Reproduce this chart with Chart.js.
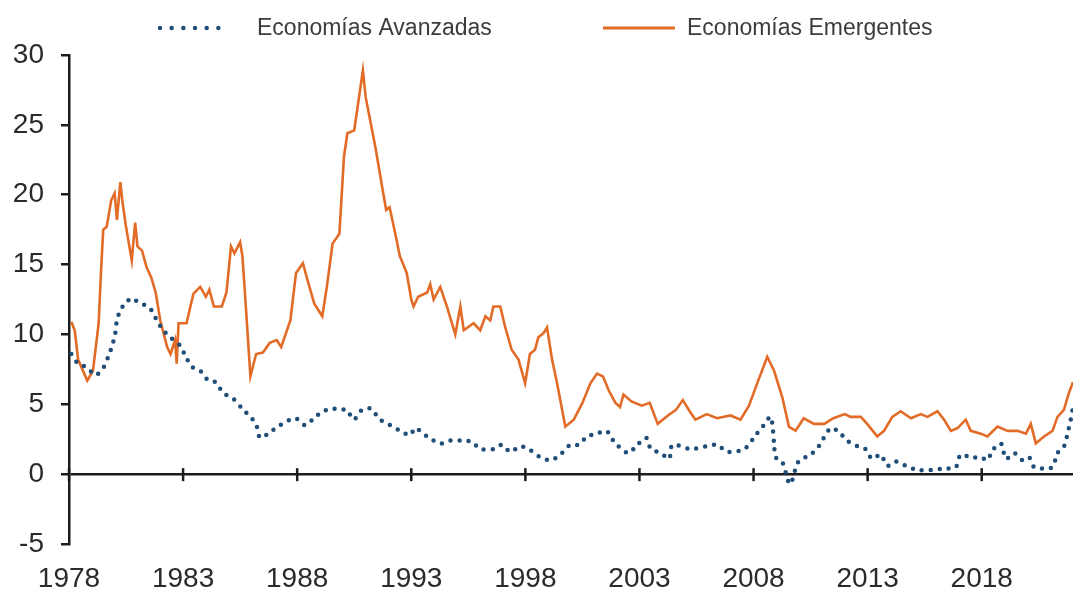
<!DOCTYPE html>
<html>
<head>
<meta charset="utf-8">
<title>Inflación: economías avanzadas y emergentes</title>
<script src="https://cdn.jsdelivr.net/npm/chart.js@4.4.1/dist/chart.umd.min.js"></script>
<style>
  html, body { margin: 0; padding: 0; background: #fff; }
  #wrap { width: 1073px; height: 591px; }
</style>
</head>
<body>
<div id="wrap"><canvas id="chart" width="1073" height="591"></canvas></div>
<script>
// --- datos (año, %) ---
const xTickYears = [1978, 1983, 1988, 1993, 1998, 2003, 2008, 2013, 2018];
const yTicks = [-5, 0, 5, 10, 15, 20, 25, 30];

// Economías Avanzadas (línea punteada)
const avYears = [1978.1, 1978.4, 1978.7, 1979.07, 1979.2, 1979.5, 1979.72, 1979.87, 1980.02, 1980.09,
  1980.24, 1980.46, 1980.75, 1981.04, 1981.33, 1981.63, 1981.85, 1982.14, 1982.43, 1982.87,
  1983.09, 1983.38, 1983.75, 1984.11, 1984.4, 1984.77, 1985.2, 1985.64, 1986.01, 1986.23,
  1986.38, 1986.81, 1987.25, 1987.91, 1988.35, 1988.79, 1989.15, 1989.52, 1989.9, 1990.18,
  1990.47, 1990.84, 1991.2, 1991.64, 1992.08, 1992.52, 1992.96, 1993.17, 1993.69, 1994.27,
  1994.71, 1995.29, 1995.66, 1996.03, 1996.61, 1996.98, 1997.34, 1997.78, 1998.22, 1998.66,
  1999.1, 1999.53, 1999.97, 2000.34, 2000.71, 2001.14, 2001.55, 2001.9, 2002.5, 2002.85,
  2003.3, 2003.5, 2003.95, 2004.3, 2004.45, 2005.25, 2005.95, 2006.4, 2006.85, 2007.6,
  2008.1, 2008.45, 2008.75, 2008.9, 2008.97, 2009.25, 2009.6, 2009.97, 2010.5, 2010.86,
  2011.38, 2011.75, 2012.1, 2012.55, 2012.9, 2013.2, 2013.57, 2013.86, 2014.23, 2014.67,
  2015.18, 2015.77, 2016.35, 2016.86, 2017.08, 2017.52, 2017.96, 2018.25, 2018.47, 2018.84,
  2019.06, 2019.42, 2019.79, 2020.08, 2020.3, 2020.74, 2021.1, 2021.32, 2021.61, 2021.76,
  2021.9, 2022.0];
const avValues = [8.6, 7.9, 7.7, 7.2, 7.1, 7.6, 8.4, 9.1, 10.0, 10.9,
  11.7, 12.2, 12.6, 12.3, 12.1, 11.7, 11.0, 10.3, 9.8, 9.2,
  8.5, 7.7, 7.4, 6.7, 6.6, 5.8, 5.4, 4.6, 4.0, 3.4,
  2.6, 3.0, 3.5, 4.0, 3.5, 4.1, 4.5, 4.7, 4.6, 4.6,
  3.9, 4.6, 4.7, 3.9, 3.5, 3.1, 2.8, 3.3, 2.7, 2.2,
  2.4, 2.4, 2.3, 1.8, 1.8, 2.1, 1.6, 2.0, 1.7, 1.2,
  1.0, 1.4, 2.1, 2.1, 2.7, 2.9, 3.1, 2.3, 1.5, 2.0,
  2.6, 1.8, 1.5, 1.1, 2.1, 1.8, 2.0, 2.1, 1.6, 1.8,
  2.8, 3.5, 4.1, 2.2, 1.2, 0.9, -0.7, 0.9, 1.4, 2.0,
  3.3, 3.0, 2.4, 2.0, 1.8, 1.1, 1.4, 0.6, 0.9, 0.6,
  0.3, 0.3, 0.4, 0.5, 1.4, 1.2, 1.2, 1.0, 1.7, 2.2,
  1.1, 1.5, 1.0, 1.2, 0.5, 0.4, 0.5, 1.5, 2.0, 2.9,
  3.9, 4.8];

// Economías Emergentes (línea continua)
const emYears = [1978.1, 1978.25, 1978.4, 1978.8, 1979.05, 1979.3, 1979.4, 1979.5, 1979.65, 1979.85,
  1980.0, 1980.1, 1980.25, 1980.35, 1980.5, 1980.75, 1980.9, 1981.0, 1981.2, 1981.4,
  1981.6, 1981.8, 1982.0, 1982.3, 1982.45, 1982.65, 1982.72, 1982.8, 1983.15, 1983.45,
  1983.75, 1984.0, 1984.15, 1984.35, 1984.7, 1984.9, 1985.1, 1985.25, 1985.5, 1985.6,
  1985.75, 1985.95, 1986.2, 1986.5, 1986.8, 1987.1, 1987.3, 1987.7, 1987.95, 1988.25,
  1988.45, 1988.75, 1989.1, 1989.3, 1989.55, 1989.85, 1990.05, 1990.2, 1990.5, 1990.65,
  1990.88, 1991.0, 1991.25, 1991.45, 1991.75, 1991.9, 1992.05, 1992.3, 1992.5, 1992.8,
  1993.0, 1993.1, 1993.3, 1993.7, 1993.83, 1993.98, 1994.27, 1994.56, 1994.93, 1995.15,
  1995.3, 1995.73, 1996.02, 1996.25, 1996.46, 1996.6, 1996.9, 1997.12, 1997.4, 1997.7,
  1997.99, 1998.2, 1998.42, 1998.57, 1998.8, 1998.95, 1999.17, 1999.39, 1999.75, 2000.12,
  2000.5, 2000.85, 2001.14, 2001.4, 2001.65, 2001.95, 2002.15, 2002.3, 2002.65, 2003.1,
  2003.45, 2003.8, 2004.25, 2004.6, 2004.9, 2005.2, 2005.45, 2005.95, 2006.4, 2006.99,
  2007.43, 2007.8, 2008.16, 2008.6, 2008.9, 2009.26, 2009.55, 2009.84, 2010.2, 2010.65,
  2011.1, 2011.5, 2012.0, 2012.25, 2012.7, 2012.98, 2013.42, 2013.72, 2014.08, 2014.45,
  2014.9, 2015.33, 2015.62, 2016.06, 2016.35, 2016.65, 2016.94, 2017.3, 2017.52, 2017.96,
  2018.25, 2018.69, 2019.13, 2019.57, 2019.94, 2020.15, 2020.37, 2020.73, 2021.1, 2021.32,
  2021.6, 2021.82, 2022.0];
const emValues = [10.9, 10.3, 8.2, 6.7, 7.4, 10.8, 14.4, 17.5, 17.7, 19.6,
  20.1, 18.2, 20.9, 19.4, 17.7, 15.3, 18.0, 16.3, 16.0, 14.8,
  14.1, 13.0, 11.0, 9.1, 8.6, 9.6, 7.9, 10.8, 10.8, 12.9,
  13.4, 12.7, 13.2, 12.0, 12.0, 13.0, 16.3, 15.8, 16.6, 15.6,
  12.0, 7.0, 8.6, 8.7, 9.4, 9.6, 9.1, 11.0, 14.4, 15.1,
  13.9, 12.2, 11.3, 13.4, 16.5, 17.2, 22.7, 24.4, 24.6, 26.3,
  28.9, 27.0, 24.9, 23.2, 20.3, 18.9, 19.1, 17.2, 15.6, 14.4,
  12.5, 12.0, 12.7, 13.0, 13.6, 12.5, 13.4, 12.0, 10.0, 12.0,
  10.3, 10.8, 10.3, 11.3, 11.0, 12.0, 12.0, 10.5, 8.9, 8.2,
  6.5, 8.6, 8.9, 9.8, 10.1, 10.5, 8.2, 6.5, 3.4, 3.9,
  5.1, 6.5, 7.2, 7.0, 6.0, 5.1, 4.8, 5.7, 5.2, 4.9,
  5.1, 3.6, 4.2, 4.6, 5.3, 4.5, 3.9, 4.3, 4.0, 4.2,
  3.9, 4.9, 6.5, 8.4, 7.4, 5.5, 3.4, 3.1, 4.0, 3.6,
  3.6, 4.0, 4.3, 4.1, 4.1, 3.6, 2.7, 3.1, 4.1, 4.5,
  4.0, 4.3, 4.1, 4.5, 3.9, 3.1, 3.3, 3.9, 3.1, 2.9,
  2.7, 3.4, 3.1, 3.1, 2.9, 3.6, 2.2, 2.7, 3.1, 4.1,
  4.6, 5.8, 6.6];

const AXIS_COLOR = '#1c1c1c';
const TEXT_COLOR = '#2a2a2a';
const FONT = '"Liberation Sans", Arial, sans-serif';

const toPoints = (xs, ys) => xs.map((x, i) => ({ x: x, y: ys[i] }));

// marcas del eje X que cruzan la línea del cero
const zeroTicksPlugin = {
    id: 'zeroTicks',
    afterDatasetsDraw(chart) {
        const { ctx, scales: { x, y } } = chart;
        const y0 = y.getPixelForValue(0);
        ctx.save();
        ctx.strokeStyle = AXIS_COLOR;
        ctx.lineWidth = 2.5;
        xTickYears.forEach(v => {
            const px = x.getPixelForValue(v);
            ctx.beginPath();
            ctx.moveTo(px, y0 - 6);
            ctx.lineTo(px, y0 + 7);
            ctx.stroke();
        });
        ctx.restore();
    }
};

// leyenda dibujada a mano para respetar las posiciones del original
const legendPlugin = {
    id: 'manualLegend',
    afterDraw(chart, args, opts) {
        const ctx = chart.ctx;
        ctx.save();
        ctx.font = '23px ' + FONT;
        ctx.textBaseline = 'middle';
        opts.items.forEach((item, i) => {
            const ds = chart.data.datasets[i];
            ctx.strokeStyle = ds.borderColor;
            ctx.lineWidth = item.width;
            ctx.lineCap = ds.borderCapStyle || 'butt';
            ctx.setLineDash(item.dash);
            ctx.beginPath();
            ctx.moveTo(item.x, opts.y);
            ctx.lineTo(item.x + item.len, opts.y);
            ctx.stroke();
            ctx.setLineDash([]);
            ctx.fillStyle = '#3c3c3c';
            ctx.fillText(ds.label, item.x + item.len + item.gap, opts.y + 1);
        });
        ctx.restore();
    }
};

const ctx = document.getElementById('chart').getContext('2d');
new Chart(ctx, {
    type: 'line',
    data: {
        datasets: [
            {
                label: 'Economías Avanzadas',
                data: toPoints(avYears, avValues),
                borderColor: '#1F4E79',
                borderWidth: 4.5,
                borderDash: [0, 9],
                borderCapStyle: 'round',
                pointRadius: 0,
                tension: 0.3,
                order: 1
            },
            {
                label: 'Economías Emergentes',
                data: toPoints(emYears, emValues),
                borderColor: '#E26B27',
                borderWidth: 2.6,
                borderCapStyle: 'butt',
                pointRadius: 0,
                tension: 0,
                order: 2
            }
        ]
    },
    options: {
        responsive: false,
        animation: false,
        layout: { padding: { top: 55, right: 0, left: 0, bottom: 0 } },
        plugins: {
            legend: { display: false },
            tooltip: { enabled: false },
            manualLegend: {
                y: 28,
                items: [
                    { x: 160, len: 70, gap: 27, width: 4.5, dash: [0, 11.67] },
                    { x: 603, len: 72, gap: 12, width: 3, dash: [] }
                ]
            }
        },
        scales: {
            x: {
                type: 'linear',
                position: 'bottom',
                min: 1978,
                max: 2022,
                afterBuildTicks: (scale) => { scale.ticks = xTickYears.map(v => ({ value: v })); },
                afterFit: (scale) => { scale.height = 47; },
                grid: { display: false, drawTicks: false },
                border: { display: false },
                ticks: {
                    autoSkip: false,
                    maxRotation: 0,
                    padding: 18,
                    color: TEXT_COLOR,
                    font: { size: 28, family: FONT },
                    callback: (v) => String(v)
                }
            },
            y: {
                min: -5,
                max: 30,
                afterBuildTicks: (scale) => { scale.ticks = yTicks.map(v => ({ value: v })); },
                afterFit: (scale) => { scale.width = 69; },
                grid: {
                    drawOnChartArea: true,
                    color: (c) => (c.tick && c.tick.value === 0) ? AXIS_COLOR : 'rgba(0,0,0,0)',
                    lineWidth: 2.5,
                    drawTicks: true,
                    tickLength: 8,
                    tickColor: AXIS_COLOR,
                    tickWidth: 2.5
                },
                border: { display: true, color: AXIS_COLOR, width: 2.5 },
                ticks: {
                    padding: 17,
                    color: TEXT_COLOR,
                    font: { size: 28, family: FONT }
                }
            }
        }
    },
    plugins: [zeroTicksPlugin, legendPlugin]
});
</script>
</body>
</html>
